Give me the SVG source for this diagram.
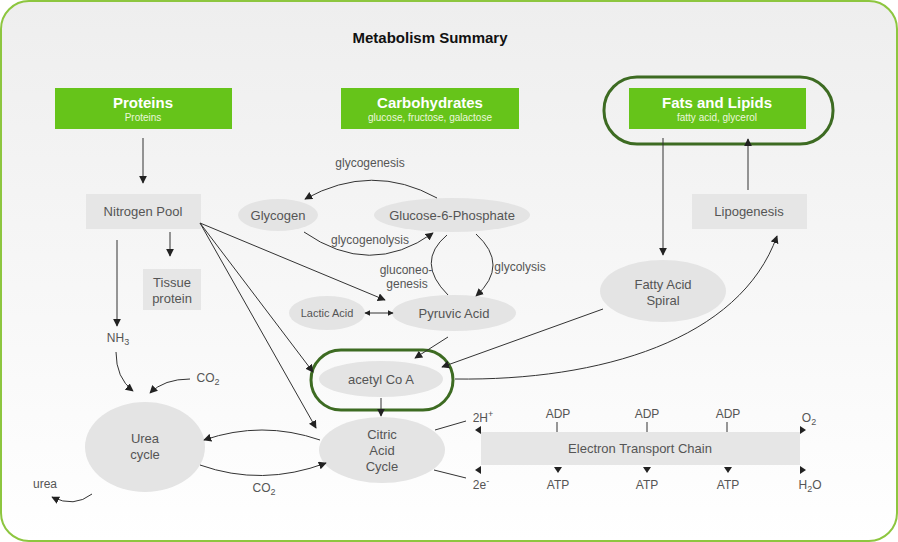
<svg xmlns="http://www.w3.org/2000/svg" width="898" height="542" viewBox="0 0 898 542">
<defs>
<linearGradient id="bg" x1="0" y1="0" x2="0" y2="1">
<stop offset="0" stop-color="#eeeeee"/>
<stop offset="1" stop-color="#ffffff"/>
</linearGradient>
<marker id="ah" viewBox="0 0 10 10" refX="9" refY="5" markerWidth="8" markerHeight="8" markerUnits="userSpaceOnUse" orient="auto">
<path d="M0,0 L10,5 L0,10 z" fill="#222"/>
</marker>
<marker id="ahs" viewBox="0 0 10 10" refX="9" refY="5" markerWidth="6" markerHeight="6" markerUnits="userSpaceOnUse" orient="auto-start-reverse">
<path d="M0,0 L10,5 L0,10 z" fill="#222"/>
</marker>
</defs>
<style>
text{font-family:"Liberation Sans",Arial,sans-serif;fill:#555;text-anchor:middle}
.t{font-size:13px}
.s{font-size:12px}
.sub{font-size:9px;fill:#555}
.gb{fill:#66c41a}
.gt{font-size:15px;font-weight:bold;fill:#fff}
.gs{font-size:10px;fill:#eaf7dc}
.box{fill:#e6e6e6}
.ell{fill:#e4e4e4}
.ring{fill:none;stroke:#3d6b22;stroke-width:3}
.c{fill:none;stroke:#333;stroke-width:1;marker-end:url(#ah)}
.l{fill:none;stroke:#333;stroke-width:1}
</style>
<rect x="1" y="1" width="896" height="540" rx="28" fill="url(#bg)" stroke="#8dc63f" stroke-width="2"/>
<text x="430" y="43" style="font-size:15px;font-weight:bold;fill:#111">Metabolism Summary</text>

<g id="proteins"><rect class="gb" x="55" y="88" width="177" height="41"/><text class="gt" x="143" y="108">Proteins</text><text class="gs" x="143" y="121">Proteins</text></g>
<g id="carbohydrates"><rect class="gb" x="341" y="88" width="178" height="41"/><text class="gt" x="430" y="108">Carbohydrates</text><text class="gs" x="430" y="121">glucose, fructose, galactose</text></g>
<g id="fats"><rect class="ring" x="604" y="77" width="229" height="67" rx="33"/><rect class="gb" x="629" y="88" width="177" height="41"/><text class="gt" x="717" y="108">Fats and Lipids</text><text class="gs" x="717" y="121">fatty acid, glycerol</text></g>

<g id="nitrogen-pool"><rect class="box" x="86" y="194" width="115" height="35"/><text class="t" x="143" y="216">Nitrogen Pool</text></g>
<g id="tissue-protein"><rect class="box" x="143" y="269" width="58" height="41"/><text class="t" x="172" y="287">Tissue</text><text class="t" x="172" y="303">protein</text></g>
<g id="nh3"><text class="s" x="118" y="342">NH<tspan class="sub" dy="3">3</tspan></text></g>
<g id="co2-a"><text class="s" x="208" y="382">CO<tspan class="sub" dy="3">2</tspan></text></g>
<g id="urea-cycle"><ellipse class="ell" cx="145" cy="447" rx="60" ry="45"/><text class="t" x="145" y="443">Urea</text><text class="t" x="145" y="459">cycle</text></g>
<g id="urea"><text class="s" x="45" y="488">urea</text></g>
<g id="co2-b"><text class="s" x="264" y="492">CO<tspan class="sub" dy="3">2</tspan></text></g>

<g id="glycogen"><ellipse class="ell" cx="278" cy="215" rx="40" ry="16"/><text class="t" x="278" y="220">Glycogen</text></g>
<g id="g6p"><ellipse class="ell" cx="452" cy="215" rx="78" ry="17"/><text class="t" x="452" y="220">Glucose-6-Phosphate</text></g>
<g id="lactic"><ellipse class="ell" cx="327" cy="313" rx="38" ry="17"/><text style="font-size:11px" x="327" y="317">Lactic Acid</text></g>
<g id="pyruvic"><ellipse class="ell" cx="454" cy="313" rx="62" ry="18"/><text class="t" x="454" y="318">Pyruvic Acid</text></g>
<g id="acetyl"><rect class="ring" x="311" y="350" width="142" height="60" rx="30"/><ellipse class="ell" cx="381" cy="379" rx="62" ry="18"/><text class="t" x="381" y="384">acetyl Co A</text></g>
<g id="citric"><ellipse class="ell" cx="382" cy="450" rx="63" ry="33"/><text class="t" x="382" y="439">Citric</text><text class="t" x="382" y="455">Acid</text><text class="t" x="382" y="471">Cycle</text></g>
<g id="fatty-acid"><ellipse class="ell" cx="663" cy="291" rx="63" ry="31"/><text class="t" x="663" y="289">Fatty Acid</text><text class="t" x="663" y="305">Spiral</text></g>
<g id="lipogenesis"><rect class="box" x="692" y="194" width="115" height="35"/><text class="t" x="749" y="216">Lipogenesis</text></g>
<g id="etc"><rect class="box" x="481" y="432" width="319" height="33"/><text class="t" x="640" y="453">Electron Transport Chain</text></g>

<g id="labels">
<text class="s" x="370" y="167">glycogenesis</text>
<text class="s" x="370" y="244">glycogenolysis</text>
<text class="s" x="406" y="274">gluconeo-</text>
<text class="s" x="407" y="288">genesis</text>
<text class="s" x="520" y="271">glycolysis</text>
<text class="s" x="483" y="422">2H<tspan class="sub" dy="-5">+</tspan></text>
<text class="s" x="481" y="489">2e<tspan class="sub" dy="-5">-</tspan></text>
<text class="s" x="558" y="418">ADP</text>
<text class="s" x="647" y="418">ADP</text>
<text class="s" x="728" y="418">ADP</text>
<text class="s" x="558" y="489">ATP</text>
<text class="s" x="647" y="489">ATP</text>
<text class="s" x="728" y="489">ATP</text>
<text class="s" x="809" y="422">O<tspan class="sub" dy="3">2</tspan></text>
<text class="s" x="810" y="489">H<tspan class="sub" dy="3">2</tspan><tspan dy="-3">O</tspan></text>
</g>

<g id="connectors">
<line class="c" x1="143" y1="138" x2="143" y2="183"/>
<line class="c" x1="170" y1="232" x2="170" y2="256"/>
<line class="c" x1="117" y1="240" x2="117" y2="326"/>
<path class="c" d="M116 352 Q116 378 133 391"/>
<path class="c" d="M190 379 Q164 379 150 393"/>
<path class="c" d="M92 494 Q74 508 52 497"/>
<path class="c" d="M320 440 Q262 420 204 440"/>
<path class="c" d="M200 465 Q262 487 326 463"/>
<line class="c" x1="200" y1="223" x2="385" y2="300"/>
<line class="c" x1="200" y1="223" x2="313" y2="372"/>
<line class="c" x1="200" y1="223" x2="316" y2="428"/>
<path class="c" d="M437 198 Q372 162 305 199"/>
<path class="c" d="M304 232 Q370 278 433 233"/>
<path class="l" d="M447 235 Q415 262 448 295"/>
<path class="c" d="M476 234 Q510 265 476 296"/>
<line class="c" x1="365" y1="313" x2="393" y2="313" style="marker-start:url(#ahs);marker-end:url(#ahs)"/>
<line class="c" x1="448" y1="337" x2="415" y2="358"/>
<line class="c" x1="603" y1="309" x2="442" y2="367"/>
<line class="c" x1="381" y1="398" x2="381" y2="416"/>
<path class="c" d="M455 379 C600 381 740 340 777 236"/>
<line class="c" x1="663" y1="138" x2="663" y2="255"/>
<line class="c" x1="748" y1="190" x2="748" y2="139"/>
<line class="l" x1="435" y1="430" x2="466" y2="421"/>
<line class="l" x1="434" y1="470" x2="466" y2="478"/>
<path d="M475 430 L481 426 L481 434 z" fill="#222"/>
<path d="M475 470 L481 466 L481 474 z" fill="#222"/>
<path d="M806 430 L800 426 L800 434 z" fill="#222"/>
<path d="M806 470 L800 466 L800 474 z" fill="#222"/>
<line class="l" x1="557" y1="422" x2="557" y2="432"/>
<line class="l" x1="647" y1="422" x2="647" y2="432"/>
<line class="l" x1="727" y1="422" x2="727" y2="432"/>
<path d="M554 467 L562 467 L558 473 z" fill="#222"/>
<path d="M643 467 L651 467 L647 473 z" fill="#222"/>
<path d="M724 467 L732 467 L728 473 z" fill="#222"/>
</g>
</svg>
